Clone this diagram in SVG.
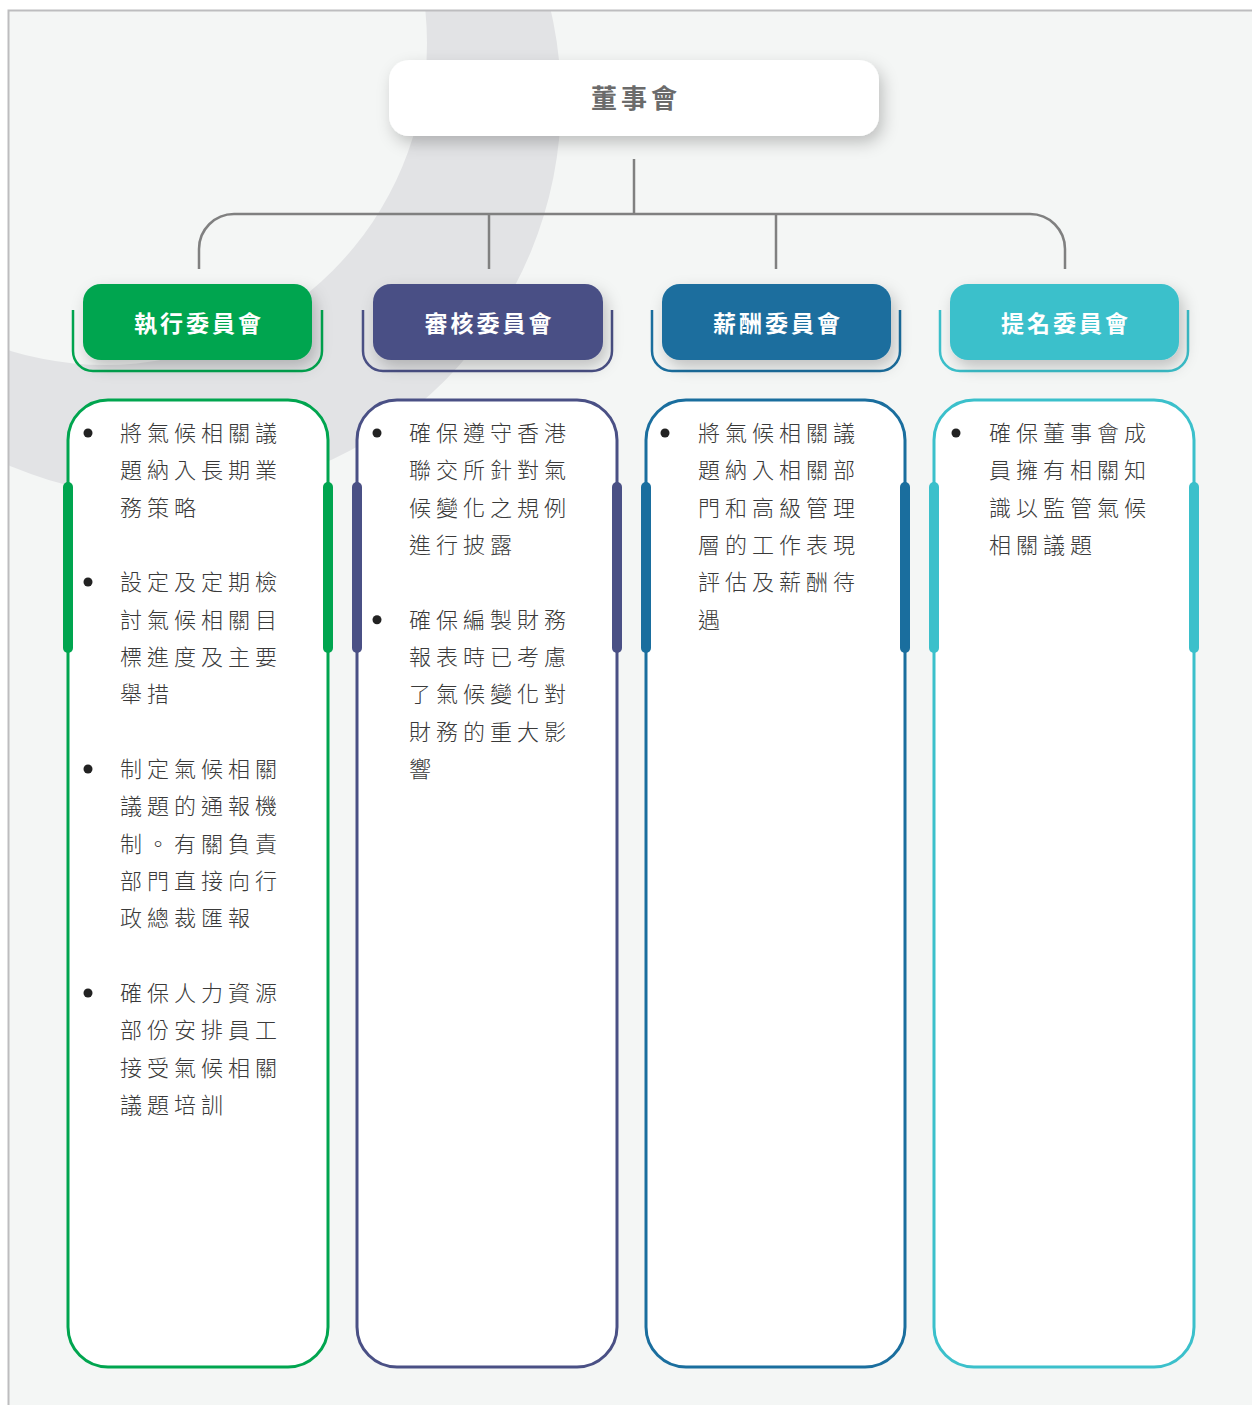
<svg xmlns="http://www.w3.org/2000/svg" width="1252" height="1405" viewBox="0 0 1252 1405">
<defs>
<style>
.hdr{font-family:"Noto Sans CJK TC","Noto Sans CJK SC",sans-serif;font-weight:700;font-size:23px;letter-spacing:3px;fill:#ffffff;text-anchor:middle}
.top{font-family:"Noto Sans CJK TC","Noto Sans CJK SC",sans-serif;font-weight:700;font-size:26px;letter-spacing:4px;fill:#6b6b6b;text-anchor:middle}
.body{font-family:"Noto Sans CJK TC","Noto Sans CJK SC",sans-serif;font-weight:300;font-size:22px;letter-spacing:5px;fill:#3a3a3a}
.conn{fill:none;stroke:#808080;stroke-width:2.5}
.card{fill:#ffffff;stroke-width:3}
.brk{fill:none;stroke-width:2.5}
.dot{fill:#222222}
</style>
<filter id="sh" x="-20%" y="-40%" width="140%" height="190%">
<feDropShadow dx="4" dy="7" stdDeviation="8" flood-color="#000000" flood-opacity="0.22"/>
</filter>
<clipPath id="frame"><rect x="9" y="11" width="1243" height="1394"/></clipPath>
</defs>
<rect x="0" y="0" width="1252" height="1405" fill="#ffffff"/>
<rect x="9" y="11" width="1243" height="1394" fill="#f4f6f5"/>
<g clip-path="url(#frame)">
<path fill="#e2e3e5" fill-rule="evenodd" d="M-233,100 a397,397 0 1,0 794,0 a397,397 0 1,0 -794,0 Z M-217,43 a322,322 0 1,0 644,0 a322,322 0 1,0 -644,0 Z"/>
</g>
<path d="M8.5,1405 V10.5 H1252" fill="none" stroke="#bdbdbf" stroke-width="2"/>

<g id="connectors">
<path class="conn" d="M634,159 V214"/>
<path class="conn" d="M199,269 V249 A35,35 0 0 1 234,214 H1030 A35,35 0 0 1 1065,249 V269"/>
<path class="conn" d="M489,214 V269"/>
<path class="conn" d="M776,214 V269"/>
</g>

<g id="board">
<rect x="389" y="60" width="490" height="76" rx="20" fill="#ffffff" filter="url(#sh)"/>
<text class="top" x="636" y="108">董事會</text>
</g>

<g id="exec">
<path class="brk" stroke="#00a54f" d="M73,310 V351 A20,20 0 0 0 93,371 H302 A20,20 0 0 0 322,351 V310"/>
<rect x="83" y="284" width="229" height="76" rx="18" fill="#00a54f" filter="url(#sh)"/>
<text class="hdr" x="199" y="332">執行委員會</text>
<rect class="card" stroke="#00a54f" x="68" y="400" width="260" height="967" rx="40"/>
<rect x="63" y="482" width="10" height="171" rx="5" fill="#00a54f"/>
<rect x="323" y="482" width="10" height="171" rx="5" fill="#00a54f"/>
<circle class="dot" cx="88" cy="433" r="4.5"/>
<circle class="dot" cx="88" cy="582" r="4.5"/>
<circle class="dot" cx="88" cy="769" r="4.5"/>
<circle class="dot" cx="88" cy="993" r="4.5"/>
<text class="body">
<tspan x="120" y="441">將氣候相關議</tspan>
<tspan x="120" y="478.3">題納入長期業</tspan>
<tspan x="120" y="515.7">務策略</tspan>
<tspan x="120" y="590.3">設定及定期檢</tspan>
<tspan x="120" y="627.7">討氣候相關目</tspan>
<tspan x="120" y="665">標進度及主要</tspan>
<tspan x="120" y="702.3">舉措</tspan>
<tspan x="120" y="777">制定氣候相關</tspan>
<tspan x="120" y="814.3">議題的通報機</tspan>
<tspan x="120" y="851.7">制。有關負責</tspan>
<tspan x="120" y="889">部門直接向行</tspan>
<tspan x="120" y="926.3">政總裁匯報</tspan>
<tspan x="120" y="1001">確保人力資源</tspan>
<tspan x="120" y="1038.3">部份安排員工</tspan>
<tspan x="120" y="1075.7">接受氣候相關</tspan>
<tspan x="120" y="1113">議題培訓</tspan>
</text>
</g>

<g id="audit">
<path class="brk" stroke="#4a5085" d="M363,310 V351 A20,20 0 0 0 383,371 H592 A20,20 0 0 0 612,351 V310"/>
<rect x="373" y="284" width="230" height="76" rx="18" fill="#4a5085" filter="url(#sh)"/>
<text class="hdr" x="489.5" y="332">審核委員會</text>
<rect class="card" stroke="#4a5085" x="357" y="400" width="260" height="967" rx="40"/>
<rect x="352" y="482" width="10" height="171" rx="5" fill="#4a5085"/>
<rect x="612" y="482" width="10" height="171" rx="5" fill="#4a5085"/>
<circle class="dot" cx="377" cy="433" r="4.5"/>
<circle class="dot" cx="377" cy="619.7" r="4.5"/>
<text class="body">
<tspan x="409" y="441">確保遵守香港</tspan>
<tspan x="409" y="478.3">聯交所針對氣</tspan>
<tspan x="409" y="515.7">候變化之規例</tspan>
<tspan x="409" y="553">進行披露</tspan>
<tspan x="409" y="627.7">確保編製財務</tspan>
<tspan x="409" y="665">報表時已考慮</tspan>
<tspan x="409" y="702.3">了氣候變化對</tspan>
<tspan x="409" y="739.7">財務的重大影</tspan>
<tspan x="409" y="777">響</tspan>
</text>
</g>

<g id="remuneration">
<path class="brk" stroke="#1a6e9e" d="M652,310 V351 A20,20 0 0 0 672,371 H880 A20,20 0 0 0 900,351 V310"/>
<rect x="662" y="284" width="229" height="76" rx="18" fill="#1a6e9e" filter="url(#sh)"/>
<text class="hdr" x="778" y="332">薪酬委員會</text>
<rect class="card" stroke="#1a6e9e" x="646" y="400" width="259" height="967" rx="40"/>
<rect x="641" y="482" width="10" height="171" rx="5" fill="#1a6e9e"/>
<rect x="900" y="482" width="10" height="171" rx="5" fill="#1a6e9e"/>
<circle class="dot" cx="665" cy="433" r="4.5"/>
<text class="body">
<tspan x="698" y="441">將氣候相關議</tspan>
<tspan x="698" y="478.3">題納入相關部</tspan>
<tspan x="698" y="515.7">門和高級管理</tspan>
<tspan x="698" y="553">層的工作表現</tspan>
<tspan x="698" y="590.3">評估及薪酬待</tspan>
<tspan x="698" y="627.7">遇</tspan>
</text>
</g>

<g id="nomination">
<path class="brk" stroke="#3bc0cb" d="M940,310 V351 A20,20 0 0 0 960,371 H1168 A20,20 0 0 0 1188,351 V310"/>
<rect x="950" y="284" width="229" height="76" rx="18" fill="#3bc0cb" filter="url(#sh)"/>
<text class="hdr" x="1066" y="332">提名委員會</text>
<rect class="card" stroke="#3bc0cb" x="934" y="400" width="260" height="967" rx="40"/>
<rect x="929" y="482" width="10" height="171" rx="5" fill="#3bc0cb"/>
<rect x="1189" y="482" width="10" height="171" rx="5" fill="#3bc0cb"/>
<circle class="dot" cx="956" cy="433" r="4.5"/>
<text class="body">
<tspan x="989" y="441">確保董事會成</tspan>
<tspan x="989" y="478.3">員擁有相關知</tspan>
<tspan x="989" y="515.7">識以監管氣候</tspan>
<tspan x="989" y="553">相關議題</tspan>
</text>
</g>
</svg>
